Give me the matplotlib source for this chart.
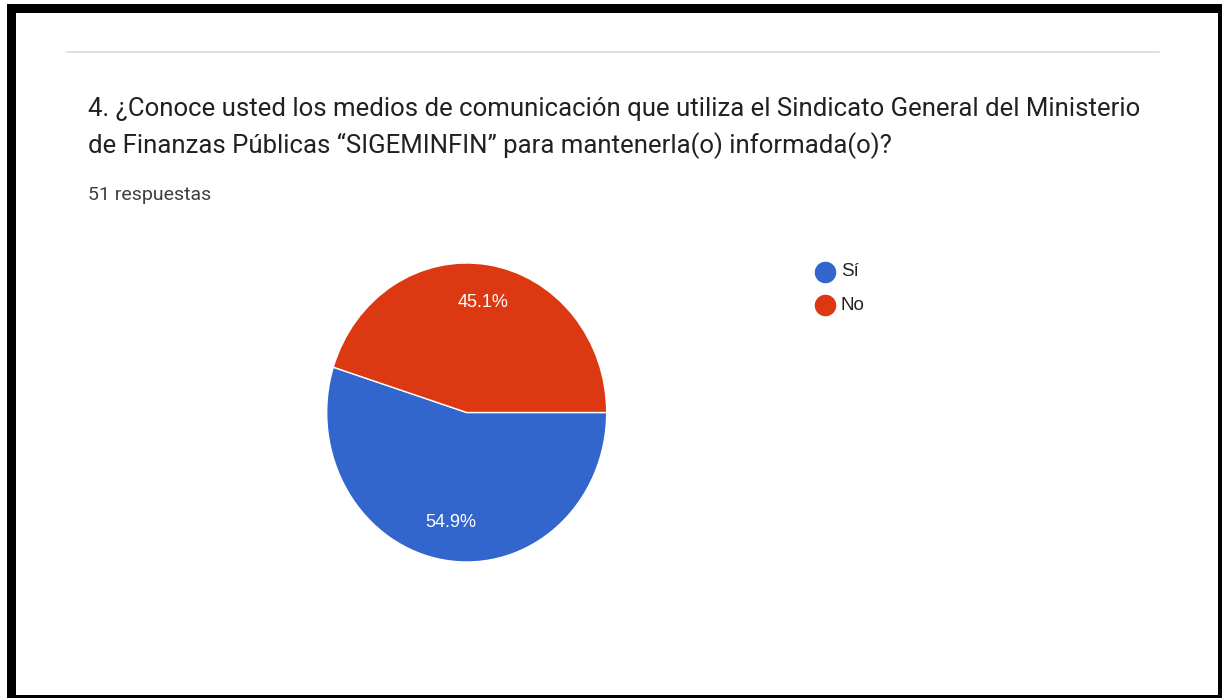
import matplotlib
matplotlib.use("Agg")
import matplotlib.pyplot as plt
from matplotlib.patches import Rectangle
from matplotlib.lines import Line2D

# survey answers (51 responses)
labels = ["Sí", "No"]
counts = [28, 23]
colors = ["#3366cc", "#dc3912"]

title_lines = [
    "4. ¿Conoce usted los medios de comunicación que utiliza el Sindicato General del Ministerio",
    "de Finanzas Públicas “SIGEMINFIN” para mantenerla(o) informada(o)?",
]
subtitle = "51 respuestas"

W, H = 1222, 698
fig = plt.figure(figsize=(W / 100, H / 100), dpi=100)
plt.rcParams['font.family'] = ['Roboto', 'DejaVu Sans']


def fx(px):
    return px / W


def fy(py):
    return 1 - py / H


# black frame of the screenshot
for x0, y0, w, h in [(7, 4, 1215, 8.5), (7, 4, 8.5, 694), (1217.5, 4, 4.5, 694), (7, 694.5, 1215, 3.5)]:
    fig.add_artist(Rectangle((fx(x0), fy(y0 + h)), w / W, h / H, color="black",
                             transform=fig.transFigure, lw=0))

# separator line
fig.add_artist(Line2D([fx(67), fx(1159)], [fy(52), fy(52)], color="#dadce0", lw=1.2,
                      transform=fig.transFigure))

fig.text(fx(88), fy(116), title_lines[0], fontsize=18.5, color="#202124", va="baseline")
fig.text(fx(88), fy(153), title_lines[1], fontsize=18.5, color="#202124", va="baseline")
fig.text(fx(88), fy(200), subtitle, fontsize=14, color="#3c4043", va="baseline")

# pie
cx, cy, rx, ry = 466.7, 412.5, 140, 149.5
ax = fig.add_axes([fx(cx - rx), fy(cy + ry), 2 * rx / W, 2 * ry / H])
wedges, _, autotexts = ax.pie(counts, colors=colors, startangle=0, counterclock=False,
                              autopct="%1.1f%%", pctdistance=0.745,
                              wedgeprops=dict(edgecolor="white", linewidth=1),
                              textprops=dict(color="white", fontsize=13,
                                             family="Liberation Sans"))
ax.set_aspect("auto")
ax.set_xlim(-1, 1)
ax.set_ylim(-1, 1)
ax.axis("off")

# legend
for i, (lab, c) in enumerate(zip(labels, colors)):
    yy = fy(272 + 33 * i)
    fig.add_artist(Line2D([fx(825)], [yy], marker="o", markersize=14.5, color=c,
                          linestyle="", transform=fig.transFigure))
    fig.text(fx(841), yy, lab, fontsize=13.5, color="#222222", va="center",
             family="Liberation Sans")

fig.savefig("out.png", dpi=100)
